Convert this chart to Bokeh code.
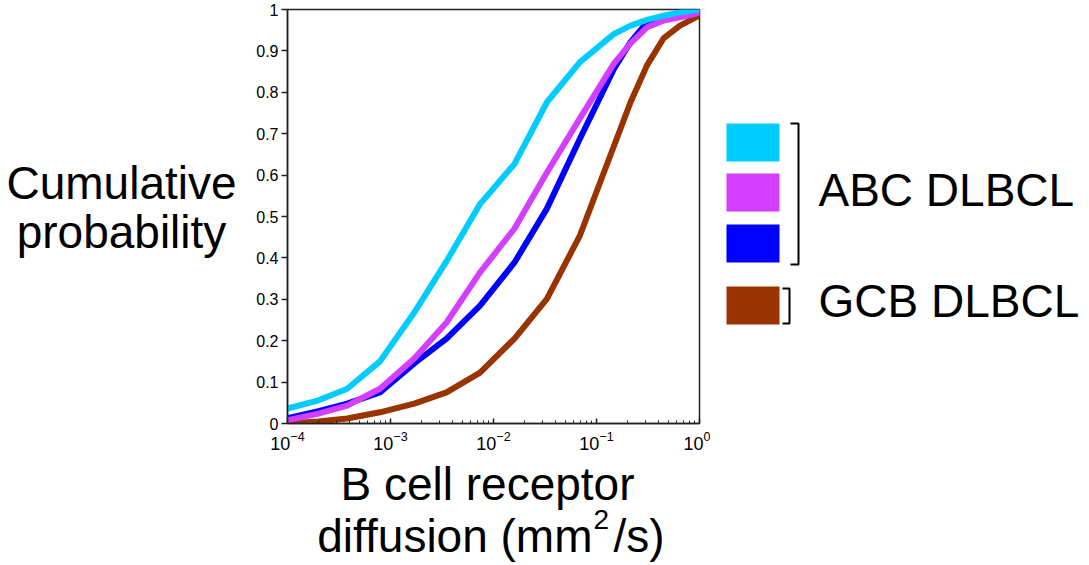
from bokeh.plotting import figure
from bokeh.models import FixedTicker, Range1d, LogTickFormatter
from bokeh.layouts import row, column
from bokeh.core.properties import value
from bokeh.embed import file_html
from bokeh.resources import INLINE

# ---------------- data ----------------
diffusion = [1.0e-4, 2.0e-4, 3.8e-4, 7.9e-4, 1.7e-3, 3.5e-3, 7.4e-3, 1.6e-2,
             3.3e-2, 6.9e-2, 0.148, 0.214, 0.309, 0.447, 0.646, 1.0]
abc_cyan = [0.036, 0.056, 0.084, 0.150, 0.268, 0.392, 0.530, 0.627,
            0.776, 0.873, 0.941, 0.961, 0.975, 0.985, 0.993, 1.0]
abc_magenta = [0.008, 0.024, 0.043, 0.084, 0.157, 0.244, 0.365, 0.471,
               0.606, 0.737, 0.870, 0.918, 0.957, 0.973, 0.981, 0.992]
abc_blue = [0.013, 0.030, 0.048, 0.075, 0.145, 0.205, 0.285, 0.389,
            0.519, 0.688, 0.857, 0.921, 0.969, 0.980, 0.985, 0.992]
gcb_brown = [0.000, 0.005, 0.012, 0.027, 0.048, 0.075, 0.123, 0.205,
             0.301, 0.454, 0.671, 0.776, 0.865, 0.930, 0.961, 0.986]

series = [gcb_brown, abc_blue, abc_magenta, abc_cyan]
series_colors = ["#993300", "#0000FF", "#D43FFF", "#00CCFF"]
legend_colors = ["#00CCFF", "#D43FFF", "#0000FF", "#993300"]
legend_groups = ["ABC DLBCL", "GCB DLBCL"]

y_ticks = [0, 0.1, 0.2, 0.3, 0.4, 0.5, 0.6, 0.7, 0.8, 0.9, 1]
y_tick_labels = ["0", "0.1", "0.2", "0.3", "0.4", "0.5", "0.6", "0.7", "0.8", "0.9", "1"]
x_tick_values = [1e-4, 1e-3, 1e-2, 1e-1, 1.0]   # shown as 10^-4 ... 10^0

y_title = ["Cumulative", "probability"]
x_title_parts = ["B cell receptor", "diffusion (mm", "2", "/s)"]

# ---------------- layout (page pixels) ----------------
FONT = "Liberation Sans"
PAGE_W, PAGE_H = 1088, 564
LEFT_W = 240           # y-title panel width
MAIN_W = 470           # main plot canvas width
TOP_H = 458            # height of the top row
FL, FR, FT, FB = 287, 699, 9, 423   # plot frame in page pixels
BASE_SHIFT = 0.39                    # alphabetic-baseline correction (fraction of font size)


def bl(py, size):
    """wanted baseline (page px) -> y to hand to the text glyph"""
    return py - BASE_SHIFT * size


def blank(width, height, x_range, y_top, y_bot, bt=0, bb=0):
    f = figure(width=width, height=height, output_backend="svg", toolbar_location=None,
               x_range=x_range, y_range=Range1d(y_bot, y_top),
               x_axis_location=None, y_axis_location=None,
               min_border=0, min_border_left=0, min_border_right=0,
               min_border_top=bt, min_border_bottom=bb)
    f.grid.visible = False
    f.outline_line_color = None
    f.background_fill_color = "white"
    f.border_fill_color = "white"
    return f


# ---- main plot ----
p = figure(width=MAIN_W, height=TOP_H, x_axis_type="log",
           x_range=Range1d(1e-4, 1.0), y_range=Range1d(0, 1),
           output_backend="svg", toolbar_location=None,
           min_border_left=FL - LEFT_W, min_border_right=LEFT_W + MAIN_W - FR,
           min_border_top=FT, min_border_bottom=TOP_H - FB)
p.grid.visible = False
p.background_fill_color = "white"
p.border_fill_color = "white"
p.outline_line_color = "#222222"
p.outline_line_width = 1.5
p.outline_line_alpha = 1

minor = [m * 10 ** k for k in range(-4, 0) for m in range(2, 10)]
p.xaxis.ticker = FixedTicker(ticks=x_tick_values, minor_ticks=minor)
p.xaxis.formatter = LogTickFormatter()
p.xaxis.major_tick_in = 5
p.xaxis.major_tick_out = 0
p.xaxis.minor_tick_in = 3
p.xaxis.minor_tick_out = 0
p.xaxis.major_label_standoff = 7
p.xaxis.major_label_text_font = FONT
p.xaxis.major_label_text_font_size = "18px"
p.xaxis.major_label_text_color = "black"

p.yaxis.ticker = FixedTicker(ticks=y_ticks, minor_ticks=[])
p.yaxis.major_label_overrides = dict(zip(y_ticks, y_tick_labels))
p.yaxis.major_tick_in = 0
p.yaxis.major_tick_out = 6
p.yaxis.major_label_standoff = 3
p.yaxis.major_label_text_font = FONT
p.yaxis.major_label_text_font_size = "16px"
p.yaxis.major_label_text_color = "black"

for ax in (p.xaxis[0], p.yaxis[0]):
    ax.axis_line_color = "#222222"
    ax.axis_line_width = 1.5
    ax.major_tick_line_color = "#222222"
    ax.major_tick_line_width = 1.5
    ax.minor_tick_line_color = "#222222"
    ax.minor_tick_line_width = 1

for vals, col in zip(series, series_colors):
    p.line(diffusion, vals, line_color=col, line_width=6,
           line_join="round", line_cap="round")

# ---- y title panel (frame aligned with the main frame: page y 9..423) ----
yt = blank(LEFT_W, TOP_H, Range1d(0, LEFT_W), FT, FB, bt=FT, bb=TOP_H - FB)
yt.text(x=[121, 121], y=[bl(200, 46), bl(249, 46)], text=y_title, text_align="center",
        text_baseline="alphabetic", text_font=value(FONT), text_font_size="46px",
        text_color="black")

# ---- legend panel ----
LX0 = LEFT_W + MAIN_W
lg = blank(PAGE_W - LX0, TOP_H, Range1d(LX0, PAGE_W), FT, FB, bt=FT, bb=TOP_H - FB)
sw_top = [123, 173, 224, 286]
lg.quad(left=[726] * 4, right=[779] * 4, top=sw_top, bottom=[t + 38 for t in sw_top],
        fill_color=legend_colors, line_color=None)
lg.multi_line(xs=[[790, 798, 798, 790], [782, 789, 789, 782]],
              ys=[[123, 123, 264, 264], [288, 288, 323, 323]],
              line_color="black", line_width=2)
lg.text(x=[818, 818], y=[bl(207, 46), bl(318, 46)], text=legend_groups, text_align="left",
        text_baseline="alphabetic", text_font=value(FONT), text_font_size="46px",
        text_color="black")

# ---- bottom panel: x title ----
bt = blank(PAGE_W, PAGE_H - TOP_H, Range1d(0, PAGE_W), TOP_H, PAGE_H)
bt.text(x=[487], y=[bl(501, 46)], text=[x_title_parts[0]], text_align="center",
        text_baseline="alphabetic", text_font=value(FONT), text_font_size="46px",
        text_color="black")
bt.text(x=[592], y=[bl(553, 46)], text=[x_title_parts[1]], text_align="right",
        text_baseline="alphabetic", text_font=value(FONT), text_font_size="46px",
        text_color="black")
bt.text(x=[593], y=[bl(530, 28)], text=[x_title_parts[2]], text_align="left",
        text_baseline="alphabetic", text_font=value(FONT), text_font_size="28px",
        text_color="black")
bt.text(x=[613], y=[bl(553, 46)], text=[x_title_parts[3]], text_align="left",
        text_baseline="alphabetic", text_font=value(FONT), text_font_size="46px",
        text_color="black")

layout = column(row(yt, p, lg), bt)
open("out.html", "w").write(file_html(layout, INLINE))
